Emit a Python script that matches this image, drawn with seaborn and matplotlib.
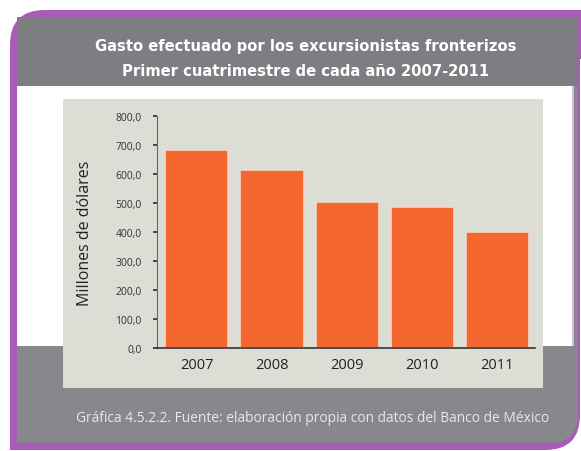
import matplotlib
matplotlib.use("Agg")
import matplotlib.pyplot as plt
import seaborn as sns
import pandas as pd
from matplotlib.patches import FancyBboxPatch, Rectangle
from matplotlib.ticker import FuncFormatter

years = ["2007", "2008", "2009", "2010", "2011"]
values = [684.0, 616.0, 503.0, 488.0, 400.0]
yticks = [0, 100, 200, 300, 400, 500, 600, 700, 800]
title_lines = ["Gasto efectuado por los excursionistas fronterizos",
               "Primer cuatrimestre de cada año 2007-2011"]
ylabel = "Millones de dólares"
caption = "Gráfica 4.5.2.2. Fuente: elaboración propia con datos del Banco de México"

df = pd.DataFrame({"year": years, "value": values})

sns.set_theme(style="white")
plt.rcParams['font.family'] = ['Open Sans', 'DejaVu Sans']

W, H = 581, 452
fig = plt.figure(figsize=(W / 100, H / 100), dpi=100)
fig.patch.set_facecolor("white")


def fx(x):
    return x / W


def fy(y):
    return 1 - y / H


purple = "#a85cb5"
gray_top = "#7e7e82"
gray_bot = "#88888c"


def rect(x0, y0, x1, y1, color, z):
    fig.patches.append(Rectangle((fx(x0), fy(y1)), fx(x1 - x0), (y1 - y0) / H,
                                 transform=fig.transFigure, facecolor=color,
                                 edgecolor="none", zorder=z))


def rbox(x0, y0, x1, y1, color, z, r):
    fig.patches.append(FancyBboxPatch((fx(x0), fy(y1)), fx(x1 - x0), (y1 - y0) / H,
                                      boxstyle=f"round,pad=0,rounding_size={r}",
                                      transform=fig.transFigure, facecolor=color,
                                      edgecolor="none", mutation_aspect=W / H,
                                      zorder=z))


# purple frame (rounded top-left and bottom-right corners)
rbox(10, 11, 580, 451, purple, -10, 0.06)
rect(520, 11, 581, 60, purple, -9.9)
rect(10, 400, 70, 451, purple, -9.9)
# inner gray base
rbox(17, 18, 578, 444, gray_bot, -9, 0.05)
rect(520, 18, 578, 60, gray_bot, -8.9)
rect(17, 400, 70, 444, gray_bot, -8.9)
# header gray
rect(17, 18, 578, 87, gray_top, -8)
# white middle area
rect(17, 87, 572, 347, "white", -7)
rect(572, 87, 574, 347, "#dcb8e0", -7)

# beige panel
panel = fig.add_axes([fx(63), fy(389), fx(543 - 63), (389 - 100) / H])
panel.set_facecolor("#dcddd4")
panel.set_xticks([])
panel.set_yticks([])
for s in panel.spines.values():
    s.set_visible(False)

# title
for yy, line in zip([46, 72], title_lines):
    fig.text(fx(306), fy(yy), line, ha="center", va="center",
             color="white", fontsize=11.8, fontweight="bold",
             fontstretch="condensed",
             family=['DejaVu Sans'])

# main axes
ax = fig.add_axes([fx(157), fy(349.3), fx(535 - 157), 232 / H])
ax.patch.set_alpha(0)
sns.barplot(data=df, x="year", y="value", ax=ax, color="#f4672f",
            saturation=1, width=0.84, edgecolor="#f3d9c8", linewidth=1.2)
ax.set_xlim(-0.53, 4.5)
ax.set_ylim(0, 800)
ax.set_yticks(yticks)
ax.yaxis.set_major_formatter(FuncFormatter(lambda v, p: f"{v:.1f}".replace(".", ",")))
ax.tick_params(axis="y", labelsize=7.5, colors="#333333", length=3,
               direction="out", left=True, pad=8)
ax.tick_params(axis="x", labelsize=10.5, colors="#222222", length=0, pad=6)
ax.set_xlabel("")
ax.set_ylabel(ylabel, fontsize=11.5, color="#222222", labelpad=16)
for side in ["top", "right"]:
    ax.spines[side].set_visible(False)
ax.spines["left"].set_color("#666666")
ax.spines["left"].set_linewidth(0.8)
ax.spines["bottom"].set_color("#333333")
ax.spines["bottom"].set_linewidth(1.2)

# caption
fig.text(fx(313), fy(419), caption, ha="center", va="center",
         color="#e8e8ea", fontsize=9.9)

fig.savefig("out.png", dpi=100, facecolor="white")
